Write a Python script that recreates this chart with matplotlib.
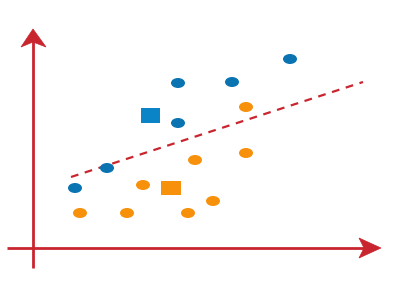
import matplotlib
matplotlib.use("Agg")
import matplotlib.pyplot as plt
from matplotlib.patches import Ellipse, Rectangle, Polygon

# data values (origin at axis crossing)
blue_x = [42, 74, 145, 145, 199, 257]
blue_y = [60, 80, 165, 125, 166, 189]
blue_center = (117, 133)

orange_x = [47, 94, 110, 155, 180, 162, 213, 213]
orange_y = [35, 35, 63, 35, 47, 88, 141, 95]
orange_center = (138, 60)

line_x = [38, 330]
line_y = [71, 166]

BLUE = "#0a73b1"
ORANGE = "#f7900a"
RED = "#c9252f"

fig = plt.figure(figsize=(3.97, 2.98), dpi=100)
ax = fig.add_axes([0, 0, 1, 1])
ax.set_xlim(-33, 364)
ax.set_ylim(-50, 248)
ax.axis("off")

# axes
ax.plot([-26, 340], [0, 0], color=RED, lw=2.0, solid_capstyle="butt", zorder=1)
ax.plot([0, 0], [-20, 210], color=RED, lw=2.0, solid_capstyle="butt", zorder=1)
ax.add_patch(Polygon([(348, 0), (326, 10), (331, 0), (326, -10)], closed=True,
                     facecolor=RED, edgecolor=RED, lw=0.5, zorder=2))
ax.add_patch(Polygon([(0, 219), (-12, 201), (0, 206), (13, 201)], closed=True,
                     facecolor=RED, edgecolor=RED, lw=0.5, zorder=2))

# regression line
ax.plot(line_x, line_y, color=RED, lw=1.6, ls=(0, (3.5, 3)), zorder=2)

for x, y in zip(blue_x, blue_y):
    ax.add_patch(Ellipse((x, y), 14, 10, facecolor=BLUE, edgecolor="none", zorder=3))
for x, y in zip(orange_x, orange_y):
    ax.add_patch(Ellipse((x, y), 14, 10, facecolor=ORANGE, edgecolor="none", zorder=3))

ax.add_patch(Rectangle((blue_center[0] - 9.5, blue_center[1] - 7.5), 19, 15,
                       facecolor="#0a84c6", edgecolor="none", zorder=3))
ax.add_patch(Rectangle((orange_center[0] - 10, orange_center[1] - 7), 20, 14,
                       facecolor=ORANGE, edgecolor="none", zorder=3))

fig.savefig("out.png", dpi=100)
